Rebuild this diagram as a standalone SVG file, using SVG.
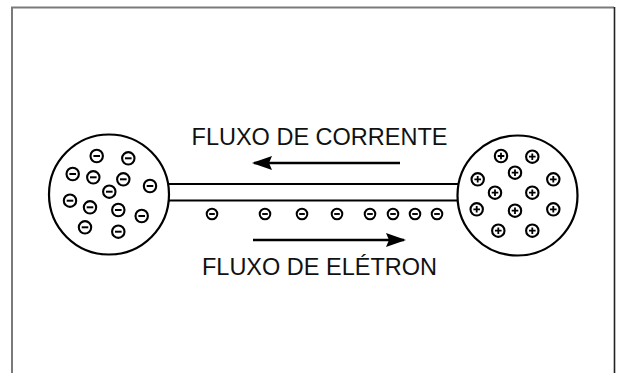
<svg xmlns="http://www.w3.org/2000/svg" xmlns:xlink="http://www.w3.org/1999/xlink" width="617" height="373" viewBox="0 0 617 373">
<style>
.big{fill:#fff;stroke:#000;stroke-width:2.2}
.wire{fill:none;stroke:#000;stroke-width:2.2}
.arrow{fill:none;stroke:#000;stroke-width:2.6}
.lbl{font-family:"Liberation Sans",Arial,sans-serif;font-size:23.5px;fill:#111;text-anchor:middle}
</style>
<defs>
<g id="neg"><circle r="6.2" fill="#fff" stroke="#000" stroke-width="2.1"/><line x1="-3.3" y1="0" x2="3.3" y2="0" stroke="#000" stroke-width="2"/></g>
<g id="pos"><circle r="6.2" fill="#fff" stroke="#000" stroke-width="2.1"/><path d="M-3.3 0H3.3M0 -3.3V3.3" stroke="#000" stroke-width="1.8"/></g>
<g id="eneg"><circle r="5.3" fill="#fff" stroke="#000" stroke-width="2"/><line x1="-2.8" y1="0" x2="2.8" y2="0" stroke="#000" stroke-width="1.9"/></g>
<marker id="ah" viewBox="0 0 20 14" refX="18" refY="7" markerWidth="20" markerHeight="14" markerUnits="userSpaceOnUse" orient="auto">
<path d="M0 0L20 7L0 14L3 7Z" fill="#000"/>
</marker>
</defs>
<rect width="617" height="373" fill="#fff"/>
<g id="frame">
<path d="M12 380V7.5H614" fill="none" stroke="#7a7a7a" stroke-width="2"/>
<path d="M614.5 7V380" fill="none" stroke="#222" stroke-width="1.6"/>
</g>
<g id="connectors">
<g id="wire">
<line class="wire" x1="167" y1="184" x2="459" y2="184"/>
<line class="wire" x1="167" y1="200.5" x2="459" y2="200.5"/>
</g>
<line id="current-arrow" class="arrow" x1="400" y1="163" x2="254" y2="163" marker-end="url(#ah)"/>
<line id="electron-arrow" class="arrow" x1="253" y1="240" x2="404" y2="240" marker-end="url(#ah)"/>
</g>
<g id="negative-sphere">
<circle class="big" cx="109" cy="194.5" r="60"/>
<use xlink:href="#neg" x="96.7" y="156"/>
<use xlink:href="#neg" x="128.3" y="158.3"/>
<use xlink:href="#neg" x="72.7" y="174"/>
<use xlink:href="#neg" x="93.3" y="177.3"/>
<use xlink:href="#neg" x="123.3" y="179.3"/>
<use xlink:href="#neg" x="150" y="186"/>
<use xlink:href="#neg" x="109.3" y="191.7"/>
<use xlink:href="#neg" x="70" y="200.7"/>
<use xlink:href="#neg" x="90" y="207.3"/>
<use xlink:href="#neg" x="118.3" y="210"/>
<use xlink:href="#neg" x="141.7" y="216"/>
<use xlink:href="#neg" x="85" y="227.3"/>
<use xlink:href="#neg" x="118.3" y="231.7"/>
</g>
<g id="positive-sphere">
<circle class="big" cx="517.5" cy="195.5" r="60"/>
<use xlink:href="#pos" x="501" y="156"/>
<use xlink:href="#pos" x="532.3" y="156.7"/>
<use xlink:href="#pos" x="515" y="172.7"/>
<use xlink:href="#pos" x="477.7" y="179.3"/>
<use xlink:href="#pos" x="553.3" y="179.3"/>
<use xlink:href="#pos" x="495" y="192.7"/>
<use xlink:href="#pos" x="532.3" y="192.7"/>
<use xlink:href="#pos" x="476.7" y="209.3"/>
<use xlink:href="#pos" x="515" y="210.7"/>
<use xlink:href="#pos" x="553.3" y="209.3"/>
<use xlink:href="#pos" x="498.3" y="230.7"/>
<use xlink:href="#pos" x="532.3" y="230.7"/>
</g>
<g id="wire-electrons">
<use xlink:href="#eneg" x="212" y="214"/>
<use xlink:href="#eneg" x="265" y="214"/>
<use xlink:href="#eneg" x="302" y="214"/>
<use xlink:href="#eneg" x="337" y="214"/>
<use xlink:href="#eneg" x="370" y="214"/>
<use xlink:href="#eneg" x="393" y="214"/>
<use xlink:href="#eneg" x="415" y="214"/>
<use xlink:href="#eneg" x="437" y="214"/>
</g>
<g id="labels">
<text class="lbl" x="319.5" y="145">FLUXO DE CORRENTE</text>
<text class="lbl" x="319.5" y="275">FLUXO DE ELÉTRON</text>
</g>
</svg>
